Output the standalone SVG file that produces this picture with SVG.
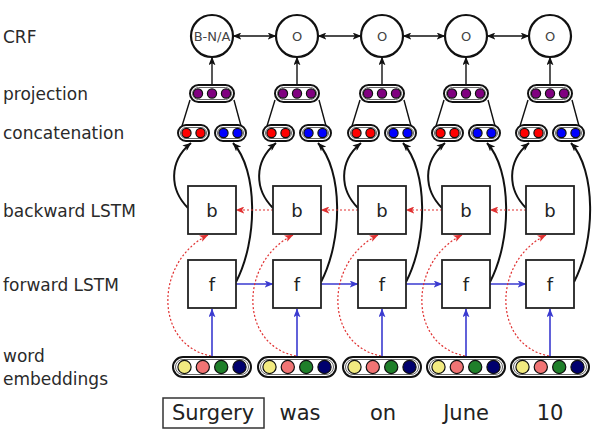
<svg xmlns="http://www.w3.org/2000/svg" width="594" height="437" viewBox="0 0 594 437">
<style>
.lbl{font-family:"DejaVu Sans",sans-serif;font-size:17px;fill:#2a2a2a}
.word{font-family:"DejaVu Sans",sans-serif;font-size:21px;fill:#222;text-anchor:middle}
.crf{fill:#fff;stroke:#111;stroke-width:2.2}
.crft{font-family:"DejaVu Sans",sans-serif;font-size:13px;fill:#444;text-anchor:middle}
.box{fill:#fff;stroke:#222;stroke-width:1.8}
.boxt{font-family:"DejaVu Sans",sans-serif;font-size:18px;fill:#222;text-anchor:middle}
.po{fill:#fff;stroke:#111;stroke-width:2}
.pi{fill:none;stroke:#666;stroke-width:1}
.dot{stroke:#111;stroke-width:1.2}
.pu{fill:#800080}.rd{fill:#ff0000}.bl{fill:#0000ff}
.ye{fill:#f2ea80}.sa{fill:#f07474}.gr{fill:#1f7f2a}.nv{fill:#00006e}
.k{fill:none;stroke:#111;stroke-width:1.4}
.kc{fill:none;stroke:#111;stroke-width:2}
.b{fill:none;stroke:#3a3ad0;stroke-width:1.6}
.r{fill:none;stroke:#e03030;stroke-width:1.2;stroke-dasharray:2 2}
</style>
<defs>
<marker id="ak" viewBox="0 0 10 8" refX="9.5" refY="4" markerWidth="9" markerHeight="7" markerUnits="userSpaceOnUse" orient="auto-start-reverse"><path d="M0,0 L10,4 L0,8 L2.5,4 z" fill="#111"/></marker>
<marker id="ab" viewBox="0 0 10 8" refX="9.5" refY="4" markerWidth="9" markerHeight="7" markerUnits="userSpaceOnUse" orient="auto"><path d="M0,0 L10,4 L0,8 L2.5,4 z" fill="#3a3ad0"/></marker>
<marker id="ar" viewBox="0 0 10 8" refX="9.5" refY="4" markerWidth="9" markerHeight="7" markerUnits="userSpaceOnUse" orient="auto"><path d="M0,0 L10,4 L0,8 L2.5,4 z" fill="#e03030"/></marker>
<g id="proj"><rect class="po" x="-22" y="-8.5" width="44" height="17" rx="8.5"/><rect class="pi" x="-19.5" y="-6" width="39" height="12" rx="6"/><circle class="dot pu" cx="-14" cy="0" r="4.6"/><circle class="dot pu" cx="0" cy="0" r="4.6"/><circle class="dot pu" cx="14" cy="0" r="4.6"/></g>
<g id="cred"><rect class="po" x="-15.5" y="-8" width="31" height="16" rx="8"/><rect class="pi" x="-13" y="-5.5" width="26" height="11" rx="5.5"/><circle class="dot rd" cx="-7" cy="0" r="4.6"/><circle class="dot rd" cx="7" cy="0" r="4.6"/></g>
<g id="cblue"><rect class="po" x="-15.5" y="-8" width="31" height="16" rx="8"/><rect class="pi" x="-13" y="-5.5" width="26" height="11" rx="5.5"/><circle class="dot bl" cx="-7" cy="0" r="4.6"/><circle class="dot bl" cx="7" cy="0" r="4.6"/></g>
<g id="emb"><rect class="po" x="-39" y="-10" width="78" height="20" rx="10"/><rect class="pi" x="-36.5" y="-7.5" width="73" height="15" rx="7.5"/><circle class="dot ye" cx="-27.5" cy="0" r="6.6"/><circle class="dot sa" cx="-9.2" cy="0" r="6.6"/><circle class="dot gr" cx="9.2" cy="0" r="6.6"/><circle class="dot nv" cx="27.5" cy="0" r="6.6"/></g>
</defs>
<rect width="594" height="437" fill="#fff"/>

<g id="labels">
<text class="lbl" x="3" y="43">CRF</text>
<text class="lbl" x="3" y="100">projection</text>
<text class="lbl" x="3" y="139">concatenation</text>
<text class="lbl" x="3" y="217">backward LSTM</text>
<text class="lbl" x="3" y="291">forward LSTM</text>
<text class="lbl" x="3" y="362">word</text>
<text class="lbl" x="3" y="385">embeddings</text>
</g>

<g id="connectors">
<line class="k" x1="233" y1="36" x2="276" y2="36" marker-start="url(#ak)" marker-end="url(#ak)"/>
<line class="k" x1="318" y1="36" x2="361" y2="36" marker-start="url(#ak)" marker-end="url(#ak)"/>
<line class="k" x1="403" y1="36" x2="445" y2="36" marker-start="url(#ak)" marker-end="url(#ak)"/>
<line class="k" x1="487" y1="36" x2="529" y2="36" marker-start="url(#ak)" marker-end="url(#ak)"/>
<line class="k" x1="212" y1="85" x2="212" y2="57" marker-end="url(#ak)"/>
<line class="k" x1="297" y1="85" x2="297" y2="57" marker-end="url(#ak)"/>
<line class="k" x1="382" y1="85" x2="382" y2="57" marker-end="url(#ak)"/>
<line class="k" x1="466" y1="85" x2="466" y2="57" marker-end="url(#ak)"/>
<line class="k" x1="550" y1="85" x2="550" y2="57" marker-end="url(#ak)"/>
<path class="k" d="M190,100 L182,126 M234,100 L241,126"/>
<path class="k" d="M275,100 L267,126 M319,100 L326,126"/>
<path class="k" d="M360,100 L352,126 M404,100 L411,126"/>
<path class="k" d="M444,100 L436,126 M488,100 L495,126"/>
<path class="k" d="M528,100 L520,126 M572,100 L579,126"/>
<path class="kc" d="M236,282 C258,240 258,170 233,143" marker-end="url(#ak)"/>
<path class="kc" d="M321,282 C343,240 343,170 318,143" marker-end="url(#ak)"/>
<path class="kc" d="M406,282 C428,240 428,170 403,143" marker-end="url(#ak)"/>
<path class="kc" d="M490,282 C512,240 512,170 487,143" marker-end="url(#ak)"/>
<path class="kc" d="M574,282 C596,240 596,170 571,143" marker-end="url(#ak)"/>
<path class="kc" d="M188,208 C170,190 168,162 191,143" marker-end="url(#ak)"/>
<path class="kc" d="M273,208 C255,190 253,162 276,143" marker-end="url(#ak)"/>
<path class="kc" d="M358,208 C340,190 338,162 361,143" marker-end="url(#ak)"/>
<path class="kc" d="M442,208 C424,190 422,162 445,143" marker-end="url(#ak)"/>
<path class="kc" d="M526,208 C508,190 506,162 529,143" marker-end="url(#ak)"/>
<line class="b" x1="212" y1="357" x2="212" y2="309" marker-end="url(#ab)"/>
<line class="b" x1="297" y1="357" x2="297" y2="309" marker-end="url(#ab)"/>
<line class="b" x1="382" y1="357" x2="382" y2="309" marker-end="url(#ab)"/>
<line class="b" x1="466" y1="357" x2="466" y2="309" marker-end="url(#ab)"/>
<line class="b" x1="550" y1="357" x2="550" y2="309" marker-end="url(#ab)"/>
<line class="b" x1="236" y1="284" x2="273" y2="284" marker-end="url(#ab)"/>
<line class="b" x1="321" y1="284" x2="358" y2="284" marker-end="url(#ab)"/>
<line class="b" x1="406" y1="284" x2="442" y2="284" marker-end="url(#ab)"/>
<line class="b" x1="490" y1="284" x2="526" y2="284" marker-end="url(#ab)"/>
<line class="r" x1="273" y1="210" x2="236" y2="210" marker-end="url(#ar)"/>
<line class="r" x1="358" y1="210" x2="321" y2="210" marker-end="url(#ar)"/>
<line class="r" x1="442" y1="210" x2="406" y2="210" marker-end="url(#ar)"/>
<line class="r" x1="526" y1="210" x2="490" y2="210" marker-end="url(#ar)"/>
<path class="r" d="M211,356 C154,345 154,262 208,235" marker-end="url(#ar)"/>
<path class="r" d="M296,356 C239,345 239,262 293,235" marker-end="url(#ar)"/>
<path class="r" d="M381,356 C324,345 324,262 378,235" marker-end="url(#ar)"/>
<path class="r" d="M465,356 C408,345 408,262 462,235" marker-end="url(#ar)"/>
<path class="r" d="M549,356 C492,345 492,262 546,235" marker-end="url(#ar)"/>
</g>

<g id="crf0"><circle class="crf" cx="212" cy="36" r="21"/><text class="crft" x="212" y="40.5" font-size="12">B-N/A</text></g>
<g id="crf1"><circle class="crf" cx="297" cy="36" r="21"/><text class="crft" x="297" y="40.5">O</text></g>
<g id="crf2"><circle class="crf" cx="382" cy="36" r="21"/><text class="crft" x="382" y="40.5">O</text></g>
<g id="crf3"><circle class="crf" cx="466" cy="36" r="21"/><text class="crft" x="466" y="40.5">O</text></g>
<g id="crf4"><circle class="crf" cx="550" cy="36" r="21"/><text class="crft" x="550" y="40.5">O</text></g>

<g id="proj0"><use href="#proj" x="212" y="93.5"/></g>
<g id="proj1"><use href="#proj" x="297" y="93.5"/></g>
<g id="proj2"><use href="#proj" x="382" y="93.5"/></g>
<g id="proj3"><use href="#proj" x="466" y="93.5"/></g>
<g id="proj4"><use href="#proj" x="550" y="93.5"/></g>

<g id="cat0"><use href="#cred" x="193.5" y="133"/><use href="#cblue" x="230.5" y="133"/></g>
<g id="cat1"><use href="#cred" x="278.5" y="133"/><use href="#cblue" x="315.5" y="133"/></g>
<g id="cat2"><use href="#cred" x="363.5" y="133"/><use href="#cblue" x="400.5" y="133"/></g>
<g id="cat3"><use href="#cred" x="447.5" y="133"/><use href="#cblue" x="484.5" y="133"/></g>
<g id="cat4"><use href="#cred" x="531.5" y="133"/><use href="#cblue" x="568.5" y="133"/></g>

<g id="b0"><rect class="box" x="188" y="186" width="48" height="48"/><text class="boxt" x="212" y="216.5">b</text></g>
<g id="b1"><rect class="box" x="273" y="186" width="48" height="48"/><text class="boxt" x="297" y="216.5">b</text></g>
<g id="b2"><rect class="box" x="358" y="186" width="48" height="48"/><text class="boxt" x="382" y="216.5">b</text></g>
<g id="b3"><rect class="box" x="442" y="186" width="48" height="48"/><text class="boxt" x="466" y="216.5">b</text></g>
<g id="b4"><rect class="box" x="526" y="186" width="48" height="48"/><text class="boxt" x="550" y="216.5">b</text></g>

<g id="f0"><rect class="box" x="188" y="260" width="48" height="48"/><text class="boxt" x="212" y="290.5">f</text></g>
<g id="f1"><rect class="box" x="273" y="260" width="48" height="48"/><text class="boxt" x="297" y="290.5">f</text></g>
<g id="f2"><rect class="box" x="358" y="260" width="48" height="48"/><text class="boxt" x="382" y="290.5">f</text></g>
<g id="f3"><rect class="box" x="442" y="260" width="48" height="48"/><text class="boxt" x="466" y="290.5">f</text></g>
<g id="f4"><rect class="box" x="526" y="260" width="48" height="48"/><text class="boxt" x="550" y="290.5">f</text></g>

<g id="emb0"><use href="#emb" x="212" y="367"/></g>
<g id="emb1"><use href="#emb" x="297" y="367"/></g>
<g id="emb2"><use href="#emb" x="382" y="367"/></g>
<g id="emb3"><use href="#emb" x="466" y="367"/></g>
<g id="emb4"><use href="#emb" x="550" y="367"/></g>

<g id="w0"><rect x="163" y="398" width="101" height="30" fill="#fff" stroke="#333" stroke-width="1.5"/><text class="word" x="213" y="420">Surgery</text></g>
<g id="w1"><text class="word" x="300" y="420">was</text></g>
<g id="w2"><text class="word" x="383" y="420">on</text></g>
<g id="w3"><text class="word" x="466" y="420">June</text></g>
<g id="w4"><text class="word" x="550" y="420">10</text></g>
</svg>
